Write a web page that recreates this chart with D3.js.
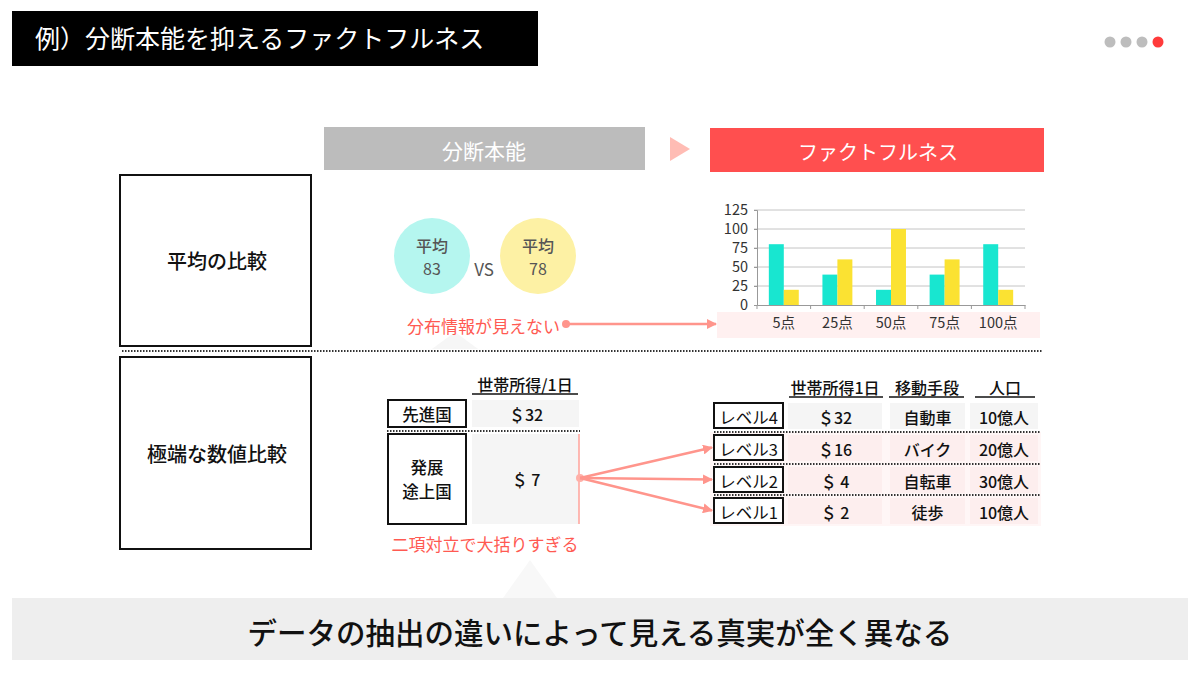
<!DOCTYPE html>
<html><head><meta charset="utf-8">
<script src="https://cdn.jsdelivr.net/npm/d3@7"></script>
<style>
html,body{margin:0;padding:0;background:#fff;}
svg{display:block;}
text{font-family:"Noto Sans CJK JP","Noto Sans",sans-serif;}
</style></head>
<body>
<svg id="c" width="1200" height="673"></svg>
<script>
// ---- data ----
const titleText = "例）分断本能を抑えるファクトフルネス";
const headerLeft = "分断本能";
const headerRight = "ファクトフルネス";
const rowLabels = ["平均の比較", "極端な数値比較"];
const averages = [83, 78];
const avgLabel = "平均";
const categories = ["5点", "25点", "50点", "75点", "100点"];
const seriesA = [80, 40, 20, 40, 80];
const seriesB = [20, 60, 100, 60, 20];
const yTicks = [0, 25, 50, 75, 100, 125];
const noteTop = "分布情報が見えない";
const noteBottom = "二項対立で大括りすぎる";
const leftHeader = "世帯所得/1日";
const leftGroups = ["先進国", "発展\n途上国"];
const leftIncome = ["＄32", "＄ 7"];
const rightHeaders = ["世帯所得1日", "移動手段", "人口"];
const levels = ["レベル4", "レベル3", "レベル2", "レベル1"];
const levelIncome = ["＄32", "＄16", "＄ 4", "＄ 2"];
const levelTransport = ["自動車", "バイク", "自転車", "徒歩"];
const levelPopulation = ["10億人", "20億人", "30億人", "10億人"];
const conclusion = "データの抽出の違いによって見える真実が全く異なる";

const svg = d3.select("#c");
const defs = svg.append("defs");
defs.append("marker").attr("id","ah").attr("viewBox","0 0 10 10").attr("refX",9).attr("refY",5)
  .attr("markerWidth",4).attr("markerHeight",4).attr("orient","auto").attr("markerUnits","strokeWidth")
  .append("path").attr("d","M0,0L10,5L0,10Z").attr("fill","#ff958c");

// title
svg.append("rect").attr("x",12).attr("y",11).attr("width",526).attr("height",55).attr("fill","#000");
svg.append("text").attr("x",35).attr("y",48).attr("fill","#fff").attr("font-size",25).text(titleText);

// page dots
const dotColors = ["#bdbdbd","#bdbdbd","#bdbdbd","#ff3b3b"];
svg.selectAll(".pd").data(dotColors).join("circle")
  .attr("cx",(d,i)=>1110+i*16).attr("cy",42).attr("r",5.5).attr("fill",d=>d);

// headers
svg.append("rect").attr("x",324).attr("y",127).attr("width",321).attr("height",43).attr("fill","#bcbcbc");
svg.append("text").attr("x",484).attr("y",150).attr("text-anchor","middle").attr("dominant-baseline","central")
  .attr("fill","#fff").attr("font-size",21).text(headerLeft);
svg.append("path").attr("d","M670,137L690,149L670,161Z").attr("fill","#ffbcb4");
svg.append("rect").attr("x",710).attr("y",128).attr("width",334).attr("height",44).attr("fill","#ff4f4f");
svg.append("text").attr("x",878).attr("y",151).attr("text-anchor","middle").attr("dominant-baseline","central")
  .attr("fill","#fff").attr("font-size",20).text(headerRight);

// left label boxes
const boxes = [{y:175,h:171},{y:357,h:192}];
boxes.forEach((b,i)=>{
  svg.append("rect").attr("x",120).attr("y",b.y).attr("width",191).attr("height",b.h)
    .attr("fill","#fff").attr("stroke","#111").attr("stroke-width",2);
  svg.append("text").attr("x",217).attr("y",b.y+b.h/2).attr("text-anchor","middle").attr("dominant-baseline","central")
    .attr("font-size",20).attr("font-weight",500).attr("fill","#111").text(rowLabels[i]);
});

// separator
svg.append("line").attr("x1",122).attr("x2",1042).attr("y1",351).attr("y2",351)
  .attr("stroke","#333").attr("stroke-width",2).attr("stroke-dasharray","1.5,1.5");

// faint triangles
svg.append("path").attr("d","M432,349L455,332L478,349Z").attr("fill","#f6f6f6");
svg.append("path").attr("d","M503,598L530,560L557,598Z").attr("fill","#f8f8f8");

// circles
const circleFill = ["#b5f6ef","#fdf1a4"];
const cxs = [432, 538];
averages.forEach((v,i)=>{
  svg.append("circle").attr("cx",cxs[i]).attr("cy",256).attr("r",38).attr("fill",circleFill[i]);
  svg.append("text").attr("x",cxs[i]).attr("y",245).attr("text-anchor","middle").attr("dominant-baseline","central")
    .attr("font-size",16).attr("font-weight",500).attr("fill","#555").text(avgLabel);
  svg.append("text").attr("x",cxs[i]).attr("y",268).attr("text-anchor","middle").attr("dominant-baseline","central")
    .attr("font-size",16).attr("fill","#555").text(v);
});
svg.append("text").attr("x",484).attr("y",268).attr("text-anchor","middle").attr("dominant-baseline","central")
  .attr("font-size",17).attr("fill","#555").text("VS");

// note top + arrow
svg.append("text").attr("x",560).attr("y",325).attr("text-anchor","end").attr("dominant-baseline","central")
  .attr("font-size",17).attr("fill","#ff5a52").text(noteTop);
svg.append("rect").attr("x",717).attr("y",312).attr("width",323).attr("height",26).attr("fill","#fff0f0");
svg.append("circle").attr("cx",566).attr("cy",324).attr("r",4).attr("fill","#ff958c");
svg.append("line").attr("x1",566).attr("y1",324).attr("x2",716).attr("y2",324)
  .attr("stroke","#ff958c").attr("stroke-width",2.5).attr("marker-end","url(#ah)");

// bar chart
const x = d3.scaleBand().domain(categories).range([757,1025]).padding(0);
const xs = d3.scaleBand().domain(["a","b"]).range([0,x.bandwidth()]).paddingInner(0).paddingOuter(0.79);
const y = d3.scaleLinear().domain([0,125]).range([305,210]);
const g = svg.append("g");
g.selectAll(".grid").data(yTicks.slice(1)).join("line")
  .attr("x1",754).attr("x2",1025).attr("y1",d=>y(d)).attr("y2",d=>y(d)).attr("stroke","#c4c4c4").attr("stroke-width",1);
const yAxis = g.append("g").attr("transform","translate(757,0)")
  .call(d3.axisLeft(y).tickValues(yTicks).tickSize(3).tickPadding(6));
yAxis.select(".domain").attr("stroke","#999");
yAxis.selectAll(".tick line").attr("stroke","#999");
yAxis.selectAll("text").attr("font-family","'Liberation Sans',Arial,sans-serif").attr("font-size",14.5).attr("fill","#333");
const bars = [seriesA, seriesB];
const barColors = ["#18e6d0","#fbe232"];
bars.forEach((s,si)=>{
  g.selectAll(".b"+si).data(categories).join("rect")
    .attr("x",d=>x(d)+xs(si?"b":"a")).attr("width",xs.bandwidth())
    .attr("y",(d,i)=>y(s[i])).attr("height",(d,i)=>y(0)-y(s[i])).attr("fill",barColors[si]);
});
const xAxis = g.append("g").attr("transform","translate(0,305)")
  .call(d3.axisBottom(x).tickSize(0).tickPadding(13));
xAxis.select(".domain").attr("stroke","#999");
xAxis.selectAll("text").attr("font-family","'Liberation Sans','Noto Sans CJK JP',sans-serif").attr("font-size",14.5).attr("fill","#333");
g.selectAll(".xt").data(categories.concat([null])).join("line")
  .attr("x1",(d,i)=>757+i*x.bandwidth()).attr("x2",(d,i)=>757+i*x.bandwidth())
  .attr("y1",305).attr("y2",309).attr("stroke","#999");

// left table
const tf = {"font-size":16,"font-weight":500,"fill":"#111"};
function txt(xp,yp,t,opt={}){
  const e = svg.append("text").attr("x",xp).attr("y",yp).attr("text-anchor","middle").attr("dominant-baseline","central");
  Object.entries(Object.assign({},tf,opt)).forEach(([k,v])=>e.attr(k,v));
  e.text(t); return e;
}
txt(525,384,leftHeader);
svg.append("line").attr("x1",472).attr("x2",578).attr("y1",394).attr("y2",394).attr("stroke","#111").attr("stroke-width",1.5);
const lrows = [{y:400,h:27},{y:434,h:90}];
lrows.forEach((r,i)=>{
  svg.append("rect").attr("x",472).attr("y",r.y).attr("width",107).attr("height",r.h).attr("fill","#f5f5f5");
  svg.append("rect").attr("x",388).attr("y",r.y).attr("width",78).attr("height",r.h).attr("fill","#fff").attr("stroke","#111").attr("stroke-width",2);
  const lines = leftGroups[i].split("\n");
  lines.forEach((l,j)=>txt(427, r.y+r.h/2 + (j-(lines.length-1)/2)*24, l, {"font-size":16.5}));
  txt(526, r.y+r.h/2, leftIncome[i]);
});
svg.append("line").attr("x1",387).attr("x2",580).attr("y1",431).attr("y2",431)
  .attr("stroke","#333").attr("stroke-width",2).attr("stroke-dasharray","1.5,1.5");
svg.append("line").attr("x1",579).attr("x2",579).attr("y1",434).attr("y2",524).attr("stroke","#ffa29a").attr("stroke-width",1.5);
txt(485,543,noteBottom,{"font-weight":400,"fill":"#ff5a52","font-size":17});

// right table
const rowY = [403,435,467,498];
const rowH = 25;
svg.append("rect").attr("x",710).attr("y",432).attr("width",331).attr("height",94).attr("fill","#fff6f6");
const colX = [{x:788,w:94},{x:890,w:75},{x:970,w:68}];
const colVals = [levelIncome, levelTransport, levelPopulation];
rowY.forEach((ry,i)=>{
  colX.forEach((c,j)=>{
    svg.append("rect").attr("x",c.x).attr("y",ry).attr("width",c.w).attr("height",rowH+1)
      .attr("fill", i===0 ? "#f5f5f5" : "#fdeeee");
    txt(c.x+c.w/2, ry+rowH/2+1, colVals[j][i]);
  });
  svg.append("rect").attr("x",714).attr("y",ry).attr("width",69).attr("height",rowH)
    .attr("fill","#fff").attr("stroke","#111").attr("stroke-width",2);
  txt(748.5, ry+rowH/2+1, levels[i], {"font-size":16.5,"font-weight":400});
});
[432,464,495].forEach(ly=>{
  svg.append("line").attr("x1",714).attr("x2",1040).attr("y1",ly).attr("y2",ly)
    .attr("stroke","#333").attr("stroke-width",2).attr("stroke-dasharray","1.5,1.5");
});
const hdr = [{c:835,a:789,b:883},{c:927,a:889,b:964},{c:1005,a:975,b:1035}];
rightHeaders.forEach((h,i)=>{
  txt(hdr[i].c,387,h);
  svg.append("line").attr("x1",hdr[i].a).attr("x2",hdr[i].b).attr("y1",397).attr("y2",397).attr("stroke","#111").attr("stroke-width",1.5);
});

// fan arrows
svg.append("circle").attr("cx",580).attr("cy",478).attr("r",4).attr("fill","#ffb0a8");
rowY.slice(1).forEach(ry=>{
  svg.append("line").attr("x1",580).attr("y1",478).attr("x2",712).attr("y2",ry+rowH/2)
    .attr("stroke","#ff958c").attr("stroke-width",2.5).attr("marker-end","url(#ah)");
});

// conclusion banner
svg.append("rect").attr("x",12).attr("y",598).attr("width",1176).attr("height",62).attr("fill","#eeeeee");
svg.append("text").attr("x",600).attr("y",631).attr("text-anchor","middle").attr("dominant-baseline","central")
  .attr("font-size",29.5).attr("font-weight",500).attr("fill","#111").text(conclusion);
</script>
</body></html>
